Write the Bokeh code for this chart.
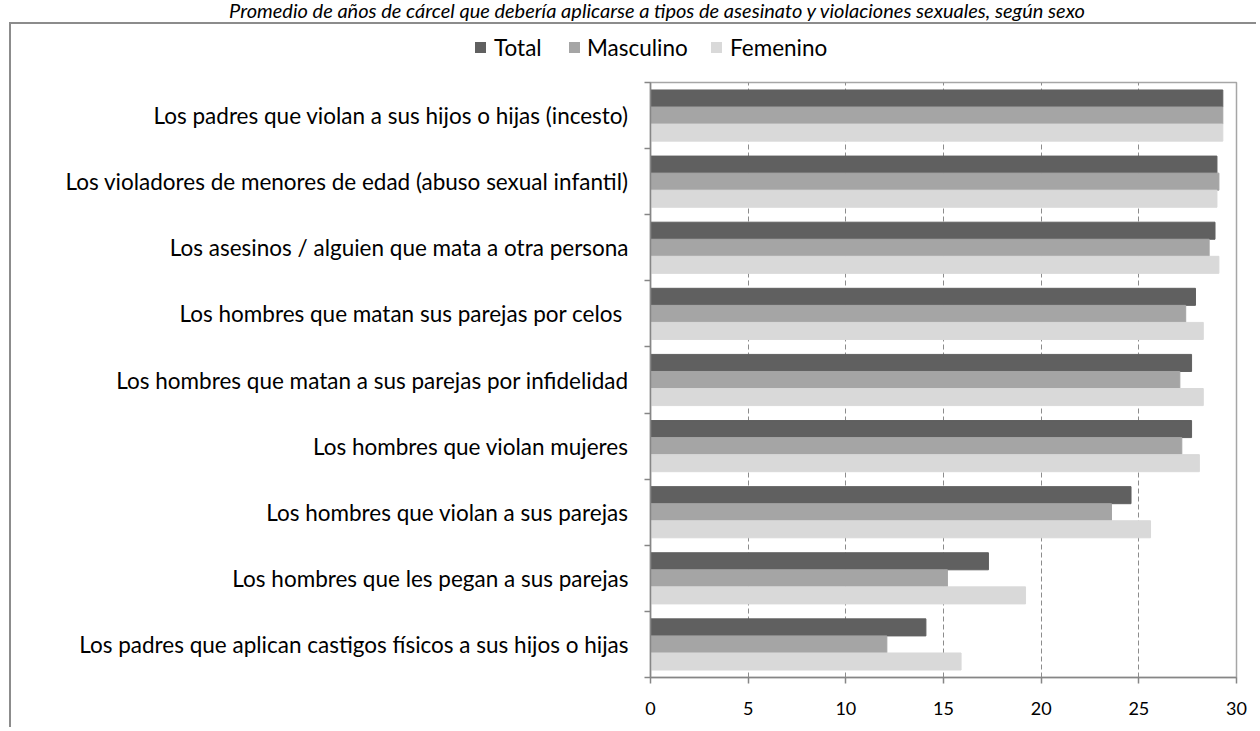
from bokeh.plotting import figure
from bokeh.layouts import column
from bokeh.models import FixedTicker, Range1d, Div
from bokeh.embed import file_html
from bokeh.resources import INLINE

title_text = "Promedio de años de cárcel que debería aplicarse a tipos de asesinato y violaciones sexuales, según sexo"
categories = [
    "Los padres que violan a sus hijos o hijas (incesto)",
    "Los violadores de menores de edad (abuso sexual infantil)",
    "Los asesinos / alguien que mata a otra persona",
    "Los hombres que matan  sus parejas por celos",
    "Los hombres que matan a sus parejas por infidelidad",
    "Los hombres que violan mujeres",
    "Los hombres que violan a sus parejas",
    "Los hombres que les pegan a sus parejas",
    "Los padres que aplican castigos físicos a sus hijos o hijas",
]
total = [29.3, 29.0, 28.9, 27.9, 27.7, 27.7, 24.6, 17.3, 14.1]
masculino = [29.3, 29.1, 28.6, 27.4, 27.1, 27.2, 23.6, 15.2, 12.1]
femenino = [29.3, 29.0, 29.1, 28.3, 28.3, 28.1, 25.6, 19.2, 15.9]
series_names = ["Total", "Masculino", "Femenino"]
series_values = [total, masculino, femenino]
series_colors = ["#606060", "#a5a5a5", "#d9d9d9"]
x_ticks = [0, 5, 10, 15, 20, 25, 30]
grid_ticks = [5, 10, 15, 20, 25]

FONT = "Lato"
n = len(categories)
centers = [n - i - 0.5 for i in range(n)]
bar_h = 0.258
offsets = [bar_h, 0.0, -bar_h]

W = 1256
HEAD_H = 78
FL, FT, FW, FH = 650, 82, 586, 595
MAIN_H = 649
FRAME_TOP = 22
LINE = "#8c8c8c"

# ---------------- header: title + legend ----------------
leg_sq_x = [475, 569, 711]
leg_tx_x = [494, 587, 730]
parts = [
    f'<div style="position:relative;width:{W}px;height:{HEAD_H}px;font-family:{FONT};color:#000;">',
    f'<div style="position:absolute;left:0;top:0;width:{2 * 657}px;text-align:center;'
    f'white-space:nowrap;font-style:italic;font-size:20px;line-height:21px;">{title_text}</div>',
]
for nm, col, sqx, tx in zip(series_names, series_colors, leg_sq_x, leg_tx_x):
    parts.append(f'<div style="position:absolute;left:{sqx}px;top:42px;width:11px;height:11px;'
                 f'background:{col};"></div>')
    parts.append(f'<div style="position:absolute;left:{tx}px;top:35px;white-space:nowrap;'
                 f'font-size:22.5px;line-height:26px;">{nm}</div>')
parts.append('</div>')
header = Div(text="".join(parts), width=W, height=HEAD_H, margin=0)

# ---------------- main chart ----------------
p = figure(
    x_range=Range1d(0, 30), y_range=Range1d(0, n),
    frame_width=FW, frame_height=FH,
    min_border_left=FL, min_border_top=FT - HEAD_H,
    min_border_right=W - FL - FW, min_border_bottom=MAIN_H - (FT - HEAD_H) - FH,
    output_backend="svg", toolbar_location=None,
    background_fill_color="white", border_fill_alpha=0,
)

for vals, col, off in zip(series_values, series_colors, offsets):
    p.hbar(y=[c + off for c in centers], left=0, right=vals, height=bar_h,
           fill_color=col, line_color=col, line_width=1)

ax = p.xaxis[0]
ax.ticker = FixedTicker(ticks=x_ticks, minor_ticks=[])
ax.axis_line_color = "#868686"
ax.axis_line_width = 1.5
ax.major_tick_line_color = "#868686"
ax.major_tick_line_width = 1.5
ax.major_tick_out = 6
ax.major_tick_in = 0
ax.minor_tick_line_color = None
ax.major_label_text_font = FONT
ax.major_label_text_font_size = "18px"
ax.major_label_text_color = "black"
ax.major_label_standoff = 18

ay = p.yaxis[0]
ay.ticker = FixedTicker(ticks=centers, minor_ticks=list(range(n + 1)))
ay.major_label_overrides = {c: lab for c, lab in zip(centers, categories)}
ay.axis_line_color = "#868686"
ay.axis_line_width = 1.5
ay.major_tick_line_color = None
ay.major_tick_out = 0
ay.major_tick_in = 0
ay.minor_tick_line_color = "#868686"
ay.minor_tick_line_width = 1.5
ay.minor_tick_out = 6
ay.minor_tick_in = 0
ay.major_label_text_font = FONT
ay.major_label_text_font_size = "22.5px"
ay.major_label_text_color = "black"
ay.major_label_standoff = 16

p.ygrid.grid_line_color = None
p.xgrid.ticker = FixedTicker(ticks=grid_ticks, minor_ticks=[])
p.xgrid.grid_line_color = "#8c8c8c"
p.xgrid.grid_line_dash = "5 3"
p.xgrid.grid_line_width = 1

p.outline_line_color = "#a6a6a6"
p.outline_line_width = 1.5

# outer chart frame: grey lines behind the transparent canvas border
frame_css = (f"linear-gradient({LINE}, {LINE}) 9px {FRAME_TOP}px / 2px 3000px no-repeat, "
             f"linear-gradient({LINE}, {LINE}) 9px {FRAME_TOP}px / 3000px 2px no-repeat, white")

root = column(header, p, spacing=0, styles={"background": frame_css})

open("out.html", "w").write(file_html(root, INLINE))
